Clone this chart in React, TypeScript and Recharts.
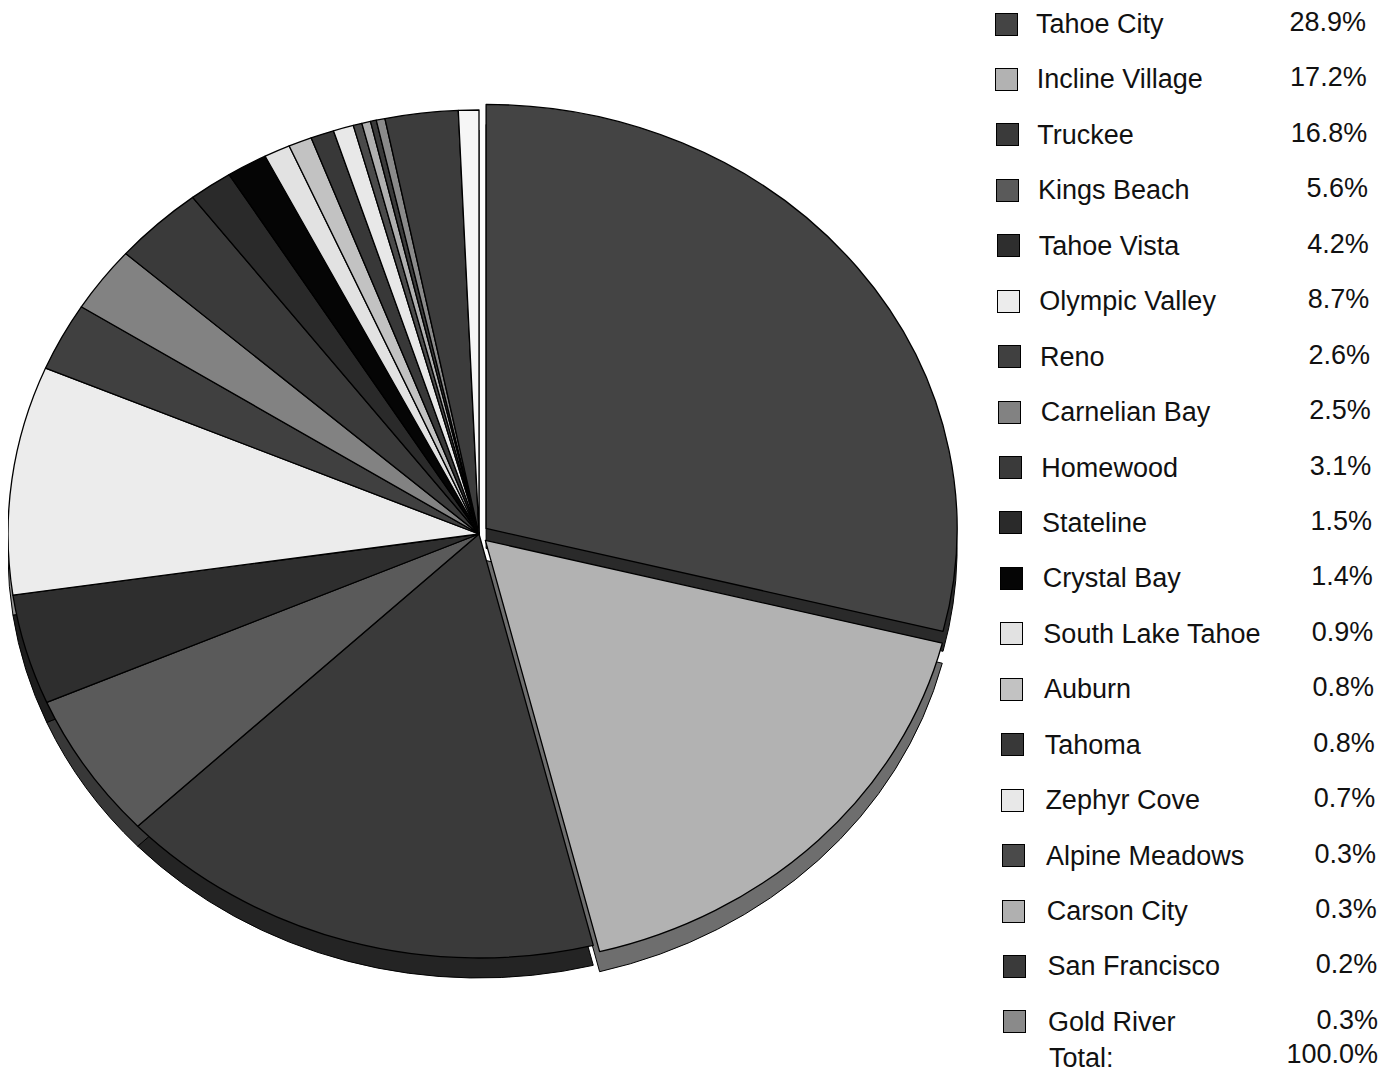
import React from 'react';
import { PieChart, Pie, Legend } from 'recharts';

// ---- data (legend order = pie order, clockwise from 12 o'clock) ----
const cities = [
  'Tahoe City', 'Incline Village', 'Truckee', 'Kings Beach', 'Tahoe Vista',
  'Olympic Valley', 'Reno', 'Carnelian Bay', 'Homewood', 'Stateline',
  'Crystal Bay', 'South Lake Tahoe', 'Auburn', 'Tahoma', 'Zephyr Cove',
  'Alpine Meadows', 'Carson City', 'San Francisco', 'Gold River',
];
const shares = [
  28.9, 17.2, 16.8, 5.6, 4.2,
  8.7, 2.6, 2.5, 3.1, 1.5,
  1.4, 0.9, 0.8, 0.8, 0.7,
  0.3, 0.3, 0.2, 0.3,
];
const shareLabels = [
  '28.9%', '17.2%', '16.8%', '5.6%', '4.2%',
  '8.7%', '2.6%', '2.5%', '3.1%', '1.5%',
  '1.4%', '0.9%', '0.8%', '0.8%', '0.7%',
  '0.3%', '0.3%', '0.2%', '0.3%',
];
// slices visible in the pie but not listed in the legend
const unlistedNames = ['Other', 'Other (small)'];
const unlistedShares = [2.5, 0.7];
const totalText = 'Total:';
const totalLabel = '100.0%';
const explodedCities = ['Tahoe City', 'Incline Village'];

const fills = [
  '#444444', '#b2b2b2', '#3a3a3a', '#5a5a5a', '#2e2e2e',
  '#ececec', '#404040', '#828282', '#3a3a3a', '#2a2a2a',
  '#050505', '#e2e2e2', '#c2c2c2', '#383838', '#e8e8e8',
  '#4a4a4a', '#b0b0b0', '#3a3a3a', '#8a8a8a',
];
const unlistedFills = ['#3c3c3c', '#f6f6f6'];

const data = [
  ...cities.map((name, i) => ({
    name,
    value: shares[i],
    fill: fills[i],
    explode: explodedCities.includes(name),
  })),
  ...unlistedNames.map((name, i) => ({
    name,
    value: unlistedShares[i],
    fill: unlistedFills[i],
    explode: false,
  })),
];

// ---- layout ----
const W = 1382;
const H = 1068;
const CX = 471;
const CY = 526;
const R = 471;
const Y_RATIO = 424 / 471;
const DEPTH = 20;
const EXPLODE = 9;

function darken(hex: string, f: number) {
  const n = parseInt(hex.slice(1), 16);
  const r = Math.round(((n >> 16) & 255) * f);
  const g = Math.round(((n >> 8) & 255) * f);
  const b = Math.round((n & 255) * f);
  return `rgb(${r},${g},${b})`;
}

function ellPath(cx: number, cy: number, rx: number, ry: number, a0: number, a1: number) {
  const rad = Math.PI / 180;
  const x1 = cx + rx * Math.cos(a0 * rad);
  const y1 = cy - ry * Math.sin(a0 * rad);
  const x2 = cx + rx * Math.cos(a1 * rad);
  const y2 = cy - ry * Math.sin(a1 * rad);
  const large = Math.abs(a0 - a1) > 180 ? 1 : 0;
  const sweep = a0 > a1 ? 1 : 0;
  return `M${cx},${cy} L${x1},${y1} A${rx},${ry} 0 ${large} ${sweep} ${x2},${y2} Z`;
}

function makeShape(depth: boolean) {
  return (props: any) => {
    const { cx, cy, outerRadius, startAngle, endAngle } = props;
    const p = props.payload || props;
    const fill = p.fill || props.fill;
    const mid = (startAngle + endAngle) / 2;
    const e = p.explode ? EXPLODE : 0;
    const ox = e * Math.cos((mid * Math.PI) / 180);
    const oy = -e * Math.sin((mid * Math.PI) / 180);
    const rx = outerRadius;
    const ry = outerRadius * Y_RATIO;
    const d = ellPath(cx + ox, cy + oy + (depth ? DEPTH : 0), rx, ry, startAngle, endAngle);
    return (
      <path
        d={d}
        fill={depth ? darken(fill, 0.62) : fill}
        stroke="#000"
        strokeWidth={depth ? 1 : 1.3}
        strokeLinejoin="round"
      />
    );
  };
}

const depthShape = makeShape(true);
const topShape = makeShape(false);

const ROW0 = 24 - 8;
const ROW_STEP = 55.44;
const FS = 27;

function LegendBox() {
  const font = '"Liberation Sans", Arial, sans-serif';
  return (
    <div style={{ position: 'relative', width: 0, height: 0, fontFamily: font, color: '#111' }}>
      {cities.map((name, i) => {
        const y = ROW0 + i * ROW_STEP;
        const sx = 987 + i * 0.45;
        const lx = 1028 + i * 0.67;
        const vr = 1358 + i * 0.67;
        return (
          <React.Fragment key={name}>
            <div
              style={{
                position: 'absolute', left: sx, top: y - 11.5, width: 23, height: 23,
                background: fills[i], border: '1px solid #000', boxSizing: 'border-box',
              }}
            />
            <div
              style={{
                position: 'absolute', left: lx, top: y - 16, lineHeight: '32px',
                fontSize: FS, whiteSpace: 'nowrap',
              }}
            >
              {name}
            </div>
            <div
              style={{
                position: 'absolute', left: vr - 200, width: 200, top: y - 18, lineHeight: '32px',
                fontSize: FS, whiteSpace: 'nowrap', textAlign: 'right',
              }}
            >
              {shareLabels[i]}
            </div>
          </React.Fragment>
        );
      })}
      <div
        style={{
          position: 'absolute', left: 1041, top: 1058 - 8 - 16, lineHeight: '32px',
          fontSize: FS, whiteSpace: 'nowrap',
        }}
      >
        {totalText}
      </div>
      <div
        style={{
          position: 'absolute', left: 1370 - 200, width: 200, top: 1056 - 8 - 18, lineHeight: '32px',
          fontSize: FS, whiteSpace: 'nowrap', textAlign: 'right',
        }}
      >
        {totalLabel}
      </div>
    </div>
  );
}

export default function App() {
  return (
    <div style={{ width: W, height: H, background: '#fff' }}>
      <PieChart width={W} height={H} margin={{ top: 0, right: 0, bottom: 0, left: 0 }}>
        <Pie
          data={data}
          dataKey="value"
          nameKey="name"
          cx={CX}
          cy={CY}
          outerRadius={R}
          startAngle={90}
          endAngle={-270}
          isAnimationActive={false}
          shape={depthShape}
          activeShape={depthShape}
          inactiveShape={depthShape}
          legendType="none"
        />
        <Pie
          data={data}
          dataKey="value"
          nameKey="name"
          cx={CX}
          cy={CY}
          outerRadius={R}
          startAngle={90}
          endAngle={-270}
          isAnimationActive={false}
          shape={topShape}
          activeShape={topShape}
          inactiveShape={topShape}
          legendType="none"
        />
        <Legend
          layout="vertical"
          align="right"
          verticalAlign="middle"
          content={() => <LegendBox />}
          wrapperStyle={{ left: 0, top: 0, width: 0, height: 0 }}
        />
      </PieChart>
    </div>
  );
}
